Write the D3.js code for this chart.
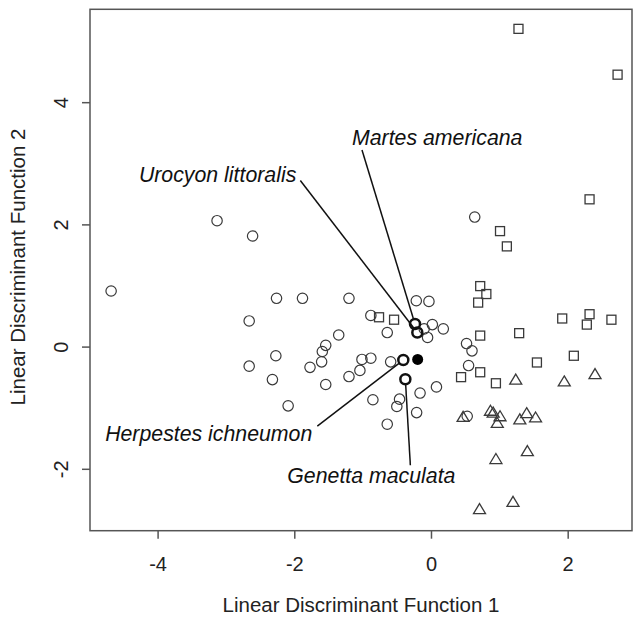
<!DOCTYPE html>
<html>
<head>
<meta charset="utf-8">
<script src="https://cdn.jsdelivr.net/npm/d3@7"></script>
<style>
  body { margin: 0; background: #fff; }
  svg { display: block; font-family: "Liberation Sans", Arial, sans-serif; }
</style>
</head>
<body>
<svg width="635" height="618"></svg>
<script>
// group 1 (open circles)
var circlePts = [
  [-4.68, 0.91], [-3.13, 2.06], [-2.61, 1.81], [-2.26, 0.79], [-1.88, 0.79],
  [-1.20, 0.79], [-2.66, 0.42], [-1.35, 0.19], [-1.54, 0.02], [-1.59, -0.08],
  [-2.27, -0.15], [-1.60, -0.25], [-2.66, -0.32], [-1.77, -0.34], [-2.32, -0.54],
  [-1.54, -0.62], [-1.20, -0.49], [-2.09, -0.97], [-0.215, 0.75], [-0.03, 0.74],
  [-0.88, 0.51], [-0.64, 0.23], [0.02, 0.36], [0.18, 0.29], [-0.10, 0.29],
  [-0.05, 0.15], [-1.01, -0.21], [-0.88, -0.19], [-0.59, -0.25], [-1.04, -0.39],
  [0.08, -0.66], [-0.16, -0.76], [-0.46, -0.86], [-0.50, -0.98], [-0.85, -0.87],
  [-0.21, -1.08], [-0.64, -1.27], [0.64, 2.12], [0.52, 0.05], [0.60, -0.07],
  [0.55, -0.31], [0.53, -1.14]
];

// group 2 (open squares)
var squarePts = [
  [1.28, 5.20], [2.73, 4.45], [2.32, 2.41], [1.01, 1.89], [1.11, 1.64],
  [0.72, 0.99], [0.81, 0.86], [0.69, 0.72], [0.72, 0.18], [1.29, 0.22],
  [1.92, 0.46], [2.32, 0.53], [2.28, 0.36], [2.64, 0.44], [2.09, -0.15],
  [1.55, -0.26], [0.72, -0.42], [0.44, -0.50], [0.95, -0.60], [-0.76, 0.48],
  [-0.54, 0.44]
];

// group 3 (open triangles)
var trianglePts = [
  [1.24, -0.54], [1.95, -0.57], [2.40, -0.45], [0.47, -1.15], [0.87, -1.05],
  [0.91, -1.08], [1.01, -1.14], [0.97, -1.25], [1.30, -1.19], [1.40, -1.09],
  [1.53, -1.16], [0.95, -1.84], [1.41, -1.71], [0.71, -2.66], [1.20, -2.54]
];

// named specimens
var namedNames = ["Martes americana", "Urocyon littoralis", "Herpestes ichneumon", "Genetta maculata"];
var namedX = [-0.234, -0.20, -0.405, -0.375];
var namedY = [0.37, 0.23, -0.22, -0.535];

// unknown specimen (filled)
var unknownPt = [-0.195, -0.21];

var xTicks = [-4, -2, 0, 2];
var yTicks = [-2, 0, 2, 4];
var xTitle = "Linear Discriminant Function 1";
var yTitle = "Linear Discriminant Function 2";

// label placement, pixel offsets from the point
var labelLayout = {
  "Martes americana":    {tx: -63,  ty: -179, anchor: "start",  lx: -53,  ly: -174},
  "Urocyon littoralis":  {tx: -121, ty: -151, anchor: "end",    lx: -117, ly: -152},
  "Herpestes ichneumon": {tx: -91,  ty: 81,   anchor: "end",    lx: -86,  ly: 66},
  "Genetta maculata":    {tx: -34,  ty: 104,  anchor: "middle", lx: 5,    ly: 86}
};

(function() {
  var svg = d3.select("svg");
  var pl = 90, pr = 632, pt = 9.3, pb = 530.7;

  var x = d3.scaleLinear().domain([-4.989, 2.941]).range([pl, pr]);
  var y = d3.scaleLinear().domain([-3.013, 5.520]).range([pb, pt]);

  var ink = "#3a3a3a";
  var fmt = function(d) { return String(d); };

  // axes
  var xAxis = svg.append("g")
    .attr("transform", "translate(0," + pb + ")")
    .call(d3.axisBottom(x).tickValues(xTicks).tickSize(8).tickFormat(fmt));
  var yAxis = svg.append("g")
    .attr("transform", "translate(" + pl + ",0)")
    .call(d3.axisLeft(y).tickValues(yTicks).tickSize(8).tickFormat(fmt));

  [xAxis, yAxis].forEach(function(a) {
    a.select(".domain").remove();
    a.selectAll(".tick line").attr("stroke", "#555").attr("stroke-width", 1.5);
    a.selectAll(".tick text")
      .attr("fill", "#222")
      .style("font-size", "20px")
      .style("font-family", "Liberation Sans, Arial, sans-serif");
  });
  xAxis.selectAll(".tick text").attr("dy", null).attr("y", 40);
  yAxis.selectAll(".tick text")
    .attr("x", null).attr("dy", null)
    .attr("text-anchor", "middle")
    .attr("transform", "translate(-22,0) rotate(-90)");

  // box
  svg.append("rect")
    .attr("x", pl).attr("y", pt)
    .attr("width", pr - pl).attr("height", pb - pt)
    .attr("fill", "none").attr("stroke", "#555").attr("stroke-width", 1.5);

  // titles
  svg.append("text")
    .attr("x", 361).attr("y", 612)
    .attr("text-anchor", "middle")
    .attr("fill", "#222")
    .style("font-size", "20.5px")
    .text(xTitle);
  svg.append("text")
    .attr("transform", "translate(25,267) rotate(-90)")
    .attr("text-anchor", "middle")
    .attr("fill", "#222")
    .style("font-size", "20.5px")
    .text(yTitle);

  var plot = svg.append("g");

  plot.selectAll("circle.g1")
    .data(circlePts)
    .enter()
    .append("circle")
    .attr("class", "g1")
    .attr("cx", function(d) { return x(d[0]); })
    .attr("cy", function(d) { return y(d[1]); })
    .attr("r", 5.2)
    .attr("fill", "none")
    .attr("stroke", ink)
    .attr("stroke-width", 1.2);

  plot.selectAll("rect.g2")
    .data(squarePts)
    .enter()
    .append("rect")
    .attr("class", "g2")
    .attr("x", function(d) { return x(d[0]) - 4.5; })
    .attr("y", function(d) { return y(d[1]) - 4.5; })
    .attr("width", 9)
    .attr("height", 9)
    .attr("fill", "none")
    .attr("stroke", ink)
    .attr("stroke-width", 1.3);

  var tri = "M0,-5.5L6,4.5L-6,4.5Z";
  plot.selectAll("path.g3")
    .data(trianglePts)
    .enter()
    .append("path")
    .attr("class", "g3")
    .attr("d", tri)
    .attr("transform", function(d) { return "translate(" + x(d[0]) + "," + y(d[1]) + ")"; })
    .attr("fill", "none")
    .attr("stroke", ink)
    .attr("stroke-width", 1.3);

  // named specimens with leader lines
  var named = namedNames.map(function(n, i) { return {name: n, x: namedX[i], y: namedY[i]}; });

  var labels = svg.append("g");
  named.forEach(function(d) {
    var L = labelLayout[d.name];
    var px = x(d.x), py = y(d.y);
    var sx = px + L.lx, sy = py + L.ly;
    var len = Math.hypot(px - sx, py - sy);
    var ex = px - (px - sx) / len * 5.5, ey = py - (py - sy) / len * 5.5;
    labels.append("line")
      .attr("x1", sx).attr("y1", sy)
      .attr("x2", ex).attr("y2", ey)
      .attr("stroke", "#111").attr("stroke-width", 1.5);
    labels.append("text")
      .attr("x", px + L.tx).attr("y", py + L.ty)
      .attr("text-anchor", L.anchor)
      .attr("fill", "#111")
      .style("font-size", "21.3px")
      .style("font-style", "italic")
      .text(d.name);
  });

  labels.selectAll("circle.named")
    .data(named)
    .enter()
    .append("circle")
    .attr("class", "named")
    .attr("cx", function(d) { return x(d.x); })
    .attr("cy", function(d) { return y(d.y); })
    .attr("r", 5)
    .attr("fill", "none")
    .attr("stroke", "#111")
    .attr("stroke-width", 2.5);

  labels.append("circle")
    .attr("cx", x(unknownPt[0]))
    .attr("cy", y(unknownPt[1]))
    .attr("r", 5.5)
    .attr("fill", "#000");
})();
</script>
</body>
</html>
